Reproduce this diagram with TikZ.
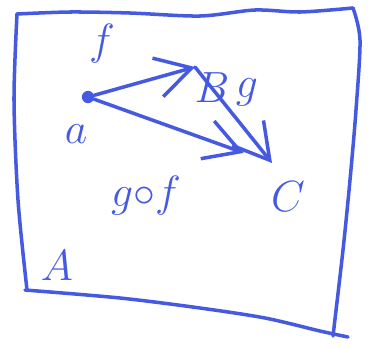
\documentclass[tikz,border=0pt]{standalone}
\usetikzlibrary{arrows.meta}
\definecolor{pen}{RGB}{70,90,225}
\begin{document}
\begin{tikzpicture}[x=0.02cm,y=-0.02cm,
  ink/.style={draw=pen,line width=2pt,line cap=round,line join=round},
  arr/.style={ink,-{Straight Barb[length=7mm,width=8mm,line width=2pt]}},
  lbl/.style={text=pen,inner sep=0pt,font=\fontsize{28}{30}\selectfont},
  dot/.style={circle,fill=pen,inner sep=0pt,minimum size=7pt}]
  \useasboundingbox (0,0) rectangle (375,349);
  \draw[ink] plot[smooth] coordinates {(17,14) (70,12) (130,13) (200,16)
    (255,10) (300,12) (353,8)};
  \draw[ink] plot[smooth] coordinates {(353,8) (360,40) (356,110) (350,180)
    (343,250) (333,336)};
  \draw[ink] plot[smooth] coordinates {(17,14) (14,100) (18,200) (27,290)};
  \draw[ink] plot[smooth] coordinates {(25,290) (120,298) (200,308) (265,318)
    (320,331) (348,337)};
  \node[dot] (a) at (88,97) {};
  \coordinate (B) at (195,67);
  \coordinate (C) at (272,163);
  \draw[arr] (a) -- (B);
  \draw[arr] (B) -- (C);
  \draw[arr,shorten >=0.6cm] (a) -- (C);
  \node[lbl] (f) at (102,44) {$f$};
  \node[lbl] (la) at (76,134) {$a$};
  \node[lbl] (lB) at (212,88) {$B$};
  \node[lbl] (g) at (247,92) {$g$};
  \node[lbl] (gf) at (146,196) {$g{\circ}f$};
  \node[lbl,font=\fontsize{34}{36}\selectfont] (lC) at (288,197) {$C$};
  \node[lbl,font=\fontsize{38}{40}\selectfont] (lA) at (57,266) {$A$};
\end{tikzpicture}
\end{document}
